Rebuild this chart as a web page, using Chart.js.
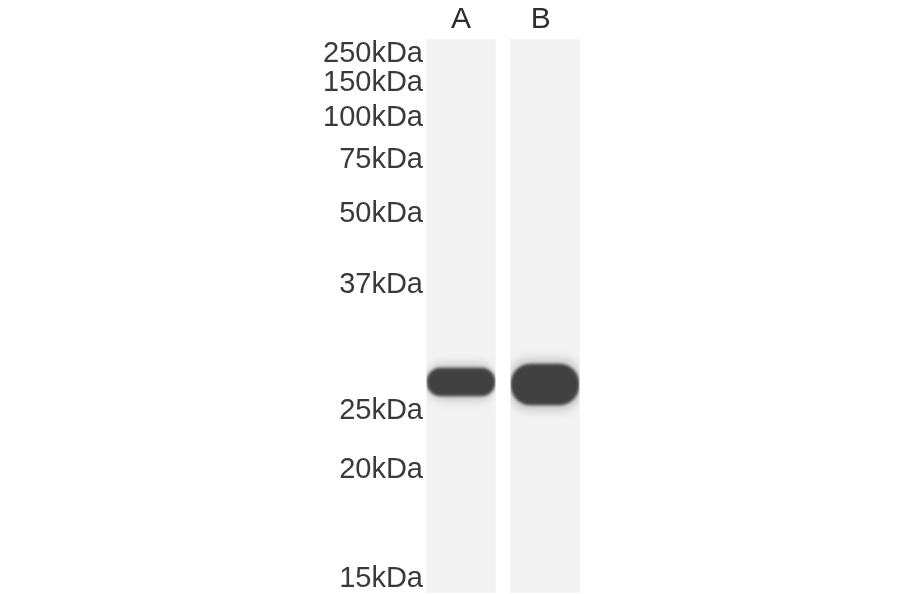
<!DOCTYPE html>
<html><head><meta charset="utf-8">
<style>html,body{margin:0;padding:0;background:#fff}#w{width:900px;height:594px}canvas{filter:blur(.55px)}</style>
<script src="https://cdn.jsdelivr.net/npm/chart.js@4"></script></head>
<body><div id="w"><canvas id="c"></canvas></div>
<script>
const lanes = ['A','B'];
const markerLabels = ['250kDa','150kDa','100kDa','75kDa','50kDa','37kDa','25kDa','20kDa','15kDa'];
const markerMigration = [15,44,79,121,175,246,372,431,540];
const laneExtent = [[0,554],[0,554]];
const bandCore = [[329,357],[325,366]];
const bandHalo = [[324,362],[319,372]];

const soft = {
  id:'soft',
  beforeDatasetDraw(chart,args){
    const b = chart.data.datasets[args.index].blurPx;
    if(!b) return;
    const ctx = chart.ctx, m = chart.getDatasetMeta(0).data;
    ctx.save();
    ctx.beginPath();
    m.forEach(r=>ctx.rect(r.x-r.width/2,r.y,r.width,r.base-r.y));
    ctx.clip();
    ctx.filter = 'blur('+b+'px)';
  },
  afterDatasetDraw(chart,args){
    if(chart.data.datasets[args.index].blurPx) chart.ctx.restore();
  }
};

new Chart(document.getElementById('c'),{
  type:'bar',
  plugins:[soft],
  data:{labels:lanes,datasets:[
    {data:laneExtent,backgroundColor:'#f3f3f3',barThickness:69,grouped:false,order:3},
    {data:bandHalo,backgroundColor:'rgba(120,120,120,.3)',barThickness:70,grouped:false,borderRadius:18,borderSkipped:false,blurPx:4,order:2},
    {data:bandCore,backgroundColor:'#414141',barThickness:68,grouped:false,borderRadius:20,borderSkipped:false,blurPx:1.6,order:1}
  ]},
  options:{
    responsive:true,maintainAspectRatio:false,animation:false,
    layout:{padding:{left:0,right:313,top:0,bottom:1}},
    plugins:{legend:{display:false},tooltip:{enabled:false}},
    scales:{
      x:{position:'top',grid:{display:false,drawTicks:false},border:{display:false},
        afterFit(s){s.height=39;},
        ticks:{color:'#2e2e2e',padding:1,maxRotation:0,autoSkip:false,font:{family:'"Liberation Sans"',size:30},
          callback(v,i){return i===1?lanes[i]+' ':lanes[i];}}},
      y:{reverse:true,min:0,max:554,grid:{display:false,drawTicks:false},border:{display:false},
        afterFit(s){s.width=419;s.paddingTop=0;s.paddingBottom=0;s._computeLabelArea=()=>undefined;},
        afterBuildTicks(s){s.ticks=markerMigration.map(v=>({value:v}));},
        ticks:{color:'#3a3a3a',padding:-4,autoSkip:false,font:{family:'"Liberation Sans"',size:29},
          callback(v){return markerLabels[markerMigration.indexOf(v)];}}}
    }
  }
});
</script></body></html>
